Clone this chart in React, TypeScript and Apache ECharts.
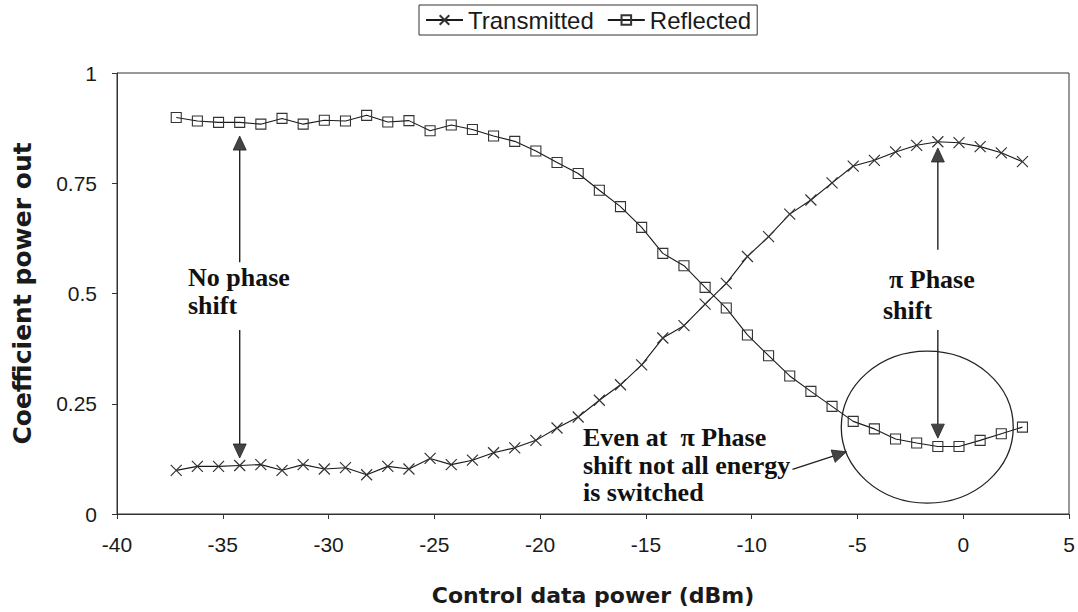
import React, { useEffect, useRef } from "react";
import * as echarts from "echarts";

const xValues = [
  -37.2, -36.2, -35.2, -34.2, -33.2, -32.2, -31.2, -30.2, -29.2, -28.2,
  -27.2, -26.2, -25.2, -24.2, -23.2, -22.2, -21.2, -20.2, -19.2, -18.2,
  -17.2, -16.2, -15.2, -14.2, -13.2, -12.2, -11.2, -10.2, -9.2, -8.2,
  -7.2, -6.2, -5.2, -4.2, -3.2, -2.2, -1.2, -0.2, 0.8, 1.8, 2.8,
];

const transmitted = [
  0.099, 0.108, 0.108, 0.11, 0.112, 0.099, 0.112, 0.102, 0.105, 0.089,
  0.108, 0.102, 0.126, 0.112, 0.122, 0.139, 0.15, 0.167, 0.195, 0.22,
  0.258, 0.293, 0.338, 0.399, 0.427, 0.476, 0.523, 0.584, 0.629, 0.68,
  0.712, 0.751, 0.789, 0.802, 0.821, 0.836, 0.844, 0.842, 0.833, 0.819, 0.799,
];

const reflected = [
  0.899, 0.891, 0.888, 0.888, 0.884, 0.897, 0.884, 0.893, 0.891, 0.904,
  0.889, 0.892, 0.869, 0.882, 0.872, 0.857, 0.845, 0.823, 0.797, 0.772,
  0.734, 0.697, 0.65, 0.591, 0.563, 0.514, 0.467, 0.406, 0.359, 0.313,
  0.278, 0.244, 0.21, 0.193, 0.17, 0.161, 0.153, 0.153, 0.167, 0.182, 0.197,
];

const seriesNames = ["Transmitted", "Reflected"];
const xAxisTitle = "Control data power (dBm)";
const yAxisTitle = "Coefficient power out";

const INK = "#1a1a1a";
const SERIF = '"Liberation Serif", "Times New Roman", serif';
const SANS = '"Liberation Sans", Arial, sans-serif';

export default function App() {
  const ref = useRef<HTMLDivElement>(null);

  useEffect(() => {
    if (!ref.current) return;
    const chart = echarts.init(ref.current, undefined, { renderer: "svg" });

    const pairs = (ys: number[]) => xValues.map((x, i) => [x, ys[i]]);

    chart.setOption({
      animation: false,
      backgroundColor: "#fff",
      grid: {
        left: 117,
        right: 9,
        top: 73,
        bottom: 98,
        show: true,
        borderColor: "#333",
        borderWidth: 1,
        backgroundColor: "transparent",
      },
      legend: {
        data: seriesNames,
        left: 419,
        top: 5,
        itemWidth: 37,
        itemHeight: 12,
        itemGap: 13,
        padding: [3, 6],
        borderColor: "#333",
        borderWidth: 1,
        textStyle: { fontFamily: SANS, fontSize: 24, color: INK },
      },
      xAxis: {
        type: "value",
        min: -40,
        max: 5,
        interval: 5,
        name: xAxisTitle,
        nameLocation: "middle",
        nameGap: 70,
        nameTextStyle: {
          fontFamily: '"DejaVu Sans", sans-serif',
          fontWeight: "bold",
          fontSize: 22,
          color: INK,
        },
        axisLine: { show: true, onZero: false, lineStyle: { color: "#333", width: 1 } },
        axisTick: { show: true, length: 5, lineStyle: { color: "#333" } },
        axisLabel: { fontFamily: SANS, fontSize: 21, color: INK, margin: 20 },
        splitLine: { show: false },
      },
      yAxis: {
        type: "value",
        min: 0,
        max: 1,
        interval: 0.25,
        name: yAxisTitle,
        nameLocation: "middle",
        nameRotate: 90,
        nameGap: 82,
        nameTextStyle: {
          fontFamily: '"DejaVu Sans", sans-serif',
          fontWeight: "bold",
          fontSize: 25,
          color: INK,
        },
        axisLine: { show: true, onZero: false, lineStyle: { color: "#333", width: 1 } },
        axisTick: { show: true, length: 5, lineStyle: { color: "#333" } },
        axisLabel: { fontFamily: SANS, fontSize: 21, color: INK, margin: 20 },
        splitLine: { show: false },
      },
      series: [
        {
          name: seriesNames[0],
          type: "line",
          data: pairs(transmitted),
          symbol: "path://M0,0L10,10M10,0L0,10",
          symbolSize: 11,
          lineStyle: { color: INK, width: 1.1 },
          itemStyle: { color: "#333", borderColor: "#333", borderWidth: 1.2 },
          emphasis: { disabled: true },
        },
        {
          name: seriesNames[1],
          type: "line",
          data: pairs(reflected),
          symbol: "rect",
          symbolSize: 10,
          lineStyle: { color: INK, width: 1.1 },
          itemStyle: { color: "rgba(255,255,255,0)", borderColor: "#333", borderWidth: 1.1 },
          emphasis: { disabled: true },
        },
      ],
    });

    const px = (x: number, y: number) =>
      chart.convertToPixel({ gridIndex: 0 }, [x, y]) as number[];

    const arrow = (from: number[], to: number[]) => {
      const dx = to[0] - from[0];
      const dy = to[1] - from[1];
      const len = Math.sqrt(dx * dx + dy * dy);
      const ux = dx / len;
      const uy = dy / len;
      const hl = 14;
      const hw = 6.5;
      const bx = to[0] - ux * hl;
      const by = to[1] - uy * hl;
      return [
        {
          type: "line",
          shape: { x1: from[0], y1: from[1], x2: bx, y2: by },
          style: { stroke: "#222", lineWidth: 1.4 },
        },
        {
          type: "polygon",
          shape: {
            points: [
              [to[0], to[1]],
              [bx - uy * hw, by + ux * hw],
              [bx + uy * hw, by - ux * hw],
            ],
          },
          style: { fill: "#444", stroke: "#222", lineWidth: 0.8 },
        },
      ];
    };

    const textEl = (text: string, x: number, y: number) => ({
      type: "text",
      x,
      y,
      style: {
        text,
        fontFamily: SERIF,
        fontWeight: "bold",
        fontSize: 26,
        fill: "#111",
        align: "left",
        verticalAlign: "middle",
      },
    });

    const ellipseC = px(-1.7, 0.197);

    chart.setOption({
      graphic: [
        ...arrow(px(-34.2, 0.571), px(-34.2, 0.857)),
        ...arrow(px(-34.2, 0.417), px(-34.2, 0.127)),
        ...arrow(px(-1.2, 0.599), px(-1.2, 0.83)),
        ...arrow(px(-1.2, 0.417), px(-1.2, 0.172)),
        ...arrow(px(-8.07, 0.101), px(-5.52, 0.141)),
        {
          type: "ellipse",
          shape: { cx: ellipseC[0], cy: ellipseC[1], rx: 86, ry: 76 },
          style: { fill: "none", stroke: "#222", lineWidth: 1.3 },
        },
        textEl("No phase", 188, 277),
        textEl("shift", 188, 305),
        textEl("\u03c0 Phase", 889, 279),
        textEl("shift", 883, 310),
        textEl("Even at  \u03c0 Phase", 583, 437),
        textEl("shift not all energy", 583, 465),
        textEl("is switched", 583, 492),
      ],
    });

    return () => chart.dispose();
  }, []);

  return (
    <div
      ref={ref}
      style={{ position: "fixed", left: 0, top: 0, width: 1078, height: 612, background: "#fff" }}
    />
  );
}
